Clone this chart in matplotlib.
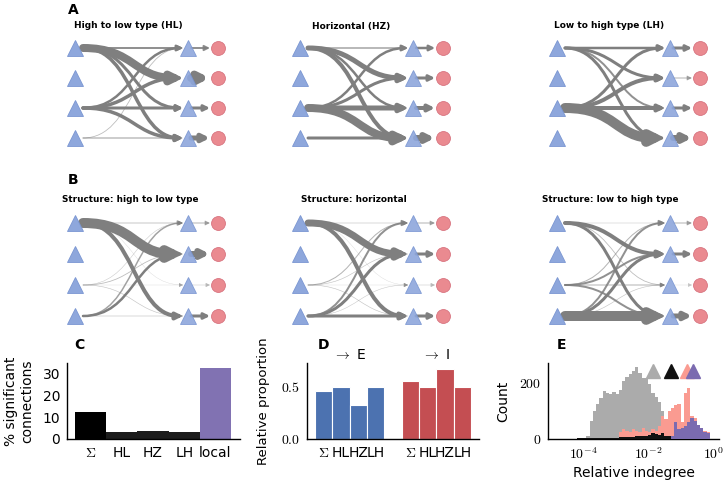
import numpy as np
import matplotlib
matplotlib.use("Agg")
import matplotlib.pyplot as plt
from matplotlib.path import Path
from matplotlib.patches import FancyArrowPatch, ArrowStyle

plt.rcParams['font.family'] = ['DejaVu Sans']
plt.rcParams['mathtext.fontset'] = 'cm'

# ---------------- data ----------------
titles_A = ["High to low type (HL)", "Horizontal (HZ)", "Low to high type (LH)"]
titles_B = ["Structure: high to low type", "Structure: horizontal", "Structure: low to high type"]

# first stage: source triangle i -> target triangle j (band width, px)
A_HL_in = [[2.0, 8.0, 3.0, 3.5],
           [0.0, 0.0, 0.0, 0.0],
           [2.5, 3.5, 3.0, 3.5],
           [0.8, 0.0, 0.0, 1.2]]
A_HZ_in = [[1.5, 5.0, 2.5, 4.0],
           [0.0, 0.0, 0.0, 0.0],
           [2.5, 3.0, 5.0, 8.0],
           [0.0, 0.0, 0.0, 3.0]]
A_LH_in = [[2.5, 3.0, 2.0, 3.0],
           [0.0, 0.0, 0.0, 0.0],
           [3.0, 4.0, 4.0, 10.0],
           [0.0, 0.0, 0.0, 0.0]]
B_HL_in = [[0.8, 10.0, 0.3, 4.0],
           [0.0, 0.0, 0.0, 0.0],
           [0.5, 0.8, 0.3, 0.6],
           [1.5, 2.5, 0.0, 0.6]]
B_HZ_in = [[0.6, 7.0, 0.3, 4.0],
           [0.0, 0.0, 0.0, 0.0],
           [1.0, 0.6, 0.3, 0.6],
           [2.0, 3.0, 0.5, 3.0]]
B_LH_in = [[0.5, 4.0, 0.8, 3.0],
           [0.0, 0.0, 0.0, 0.0],
           [1.0, 2.0, 1.0, 2.0],
           [2.0, 3.0, 0.6, 10.0]]
# second stage: target triangle j -> circle j (arrow width, px)
A_HL_out = [2.0, 8.0, 3.0, 5.0]
A_HZ_out = [2.5, 3.0, 4.0, 6.0]
A_LH_out = [3.0, 1.0, 3.0, 6.0]
B_HL_out = [1.0, 6.0, 0.5, 3.0]
B_HZ_out = [1.0, 3.0, 0.5, 3.0]
B_LH_out = [1.0, 3.0, 0.3, 5.0]

# panel C
c_labels = [r'$\Sigma$', 'HL', 'HZ', 'LH', 'local']
c_values = [12.6, 3.4, 3.8, 3.4, 32.6]

# panel D
d_labels = [r'$\Sigma$', 'HL', 'HZ', 'LH']
d_to_E = [0.46, 0.50, 0.33, 0.50]
d_to_I = [0.56, 0.50, 0.67, 0.50]

# panel E: log10 bin edges -4.4 ... -0.1 (0.1 decade bins)
e_edges = np.logspace(-4.4, -0.1, 44)
e_gray = [0, 0, 0, 0, 3, 10, 65, 100, 125, 145, 170, 165, 160, 168,
          160, 175, 205, 220, 230, 240, 255, 235, 215, 218,
          195, 165, 150, 130, 100, 65, 45, 20, 5,
          0, 0, 0, 0, 0, 0, 0, 0, 0, 0]
e_pink = [0] * 14 + [5, 25, 35, 30, 25, 35, 30, 25, 40, 30,
                     25, 35, 30, 45, 80, 70, 100, 110, 120, 125,
                     60, 165, 180, 80, 75, 40, 30, 30, 25]
e_black = [0, 0, 2, 2, 2, 2, 3, 3, 3, 4, 4, 4, 4, 5,
           5, 6, 6, 7, 8, 8, 10, 9, 11, 12,
           15, 20, 18, 15, 20, 12, 10, 5, 2, 0,
           0, 0, 0, 0, 0, 0, 0, 0, 0]
e_purple = [0] * 31 + [10, 60, 35, 40, 45, 60, 75, 65, 50, 40, 25, 20]
e_means = [10 ** -1.84, 10 ** -1.29, 10 ** -0.81, 10 ** -0.61]
e_mean_height = 240

# ---------------- figure ----------------
fig = plt.figure(figsize=(7.28, 4.87), dpi=100)
ax = fig.add_axes([0, 0, 1, 1])
ax.set_xlim(0, 728)
ax.set_ylim(487, 0)
ax.axis('off')

EDGE = '#7f7f7f'
TRI_FC = '#8ea7dc'
TRI_EC = '#7a96d2'
CIR_FC = '#ea8a90'
CIR_EC = '#d87480'
PX = 0.72  # px -> pt
HEAD = ArrowStyle('-|>', head_length=0.8, head_width=0.4)


def alpha_for(w):
    return min(1.0, 0.3 + 0.28 * w)


def mscale(w):
    return w * PX * 0.55 + 3


def draw_net(x0, ys, W_in, W_out):
    xm = x0 + 113
    xc = x0 + 143
    for i in range(4):
        for j in range(4):
            w = W_in[i][j]
            if w <= 0:
                continue
            p0 = (x0 + 8, ys[i])
            p3 = (xm - 5, ys[j])
            path = Path([p0, (x0 + 60, ys[i]), (xm - 55, ys[j]), p3],
                        [Path.MOVETO, Path.CURVE4, Path.CURVE4, Path.CURVE4])
            arr = FancyArrowPatch(path=path, arrowstyle=HEAD,
                                  mutation_scale=mscale(w), lw=w * PX, color=EDGE,
                                  alpha=alpha_for(w), zorder=2)
            ax.add_patch(arr)
    for j in range(4):
        w = W_out[j]
        if w <= 0:
            continue
        arr = FancyArrowPatch((xm + 3, ys[j]), (xc - 8, ys[j]), arrowstyle=HEAD,
                              mutation_scale=mscale(w), lw=w * PX, color=EDGE,
                              alpha=alpha_for(w), shrinkA=0, shrinkB=0, zorder=2)
        ax.add_patch(arr)
    ax.plot([x0] * 4, ys, ls='none', marker='^', ms=11, mfc=TRI_FC, mec=TRI_EC, mew=0.6, zorder=3)
    ax.plot([xm] * 4, ys, ls='none', marker='^', ms=11, mfc=TRI_FC, mec=TRI_EC, mew=0.6,
            alpha=0.9, zorder=4)
    ax.plot([xc] * 4, ys, ls='none', marker='o', ms=10, mfc=CIR_FC, mec=CIR_EC, mew=0.6, zorder=4)


xs0 = [75, 300, 557]
ys_A = [48, 78, 108, 138]
ys_B = [223, 254, 285, 316]
for x0, W_in, W_out in zip(xs0, [A_HL_in, A_HZ_in, A_LH_in], [A_HL_out, A_HZ_out, A_LH_out]):
    draw_net(x0, ys_A, W_in, W_out)
for x0, W_in, W_out in zip(xs0, [B_HL_in, B_HZ_in, B_LH_in], [B_HL_out, B_HZ_out, B_LH_out]):
    draw_net(x0, ys_B, W_in, W_out)

for x, t in zip([74, 312, 554], titles_A):
    ax.text(x, 26, t, fontsize=6.5, fontweight='bold', ha='left', va='center')
for x, t in zip([62, 301, 542], titles_B):
    ax.text(x, 200, t, fontsize=6.4, fontweight='bold', ha='left', va='center')

for x, y, t in [(68, 10, 'A'), (68, 180, 'B'), (74, 345, 'C'), (318, 345, 'D'), (557, 345, 'E')]:
    ax.text(x, y, t, fontsize=10, fontweight='bold', ha='left', va='center')


def fr(l, t, r, b):
    return [l / 728, 1 - b / 487, (r - l) / 728, (b - t) / 487]


def style(a):
    for s in ['top', 'right']:
        a.spines[s].set_visible(False)
    a.spines['left'].set_linewidth(1.0)
    a.spines['bottom'].set_linewidth(1.0)
    a.tick_params(length=0, pad=5, labelsize=10)


# ---- C ----
axC = fig.add_axes(fr(67, 363, 240, 439))
c_colors = ['black', '#1c1c1c', '#1c1c1c', '#1c1c1c', '#8172b2']
axC.bar(range(len(c_values)), c_values, width=1.0, color=c_colors)
axC.set_xlim(-0.76, 4.79)
axC.set_ylim(0, 35)
axC.set_yticks([0, 10, 20, 30])
axC.set_xticks(range(len(c_labels)))
axC.set_xticklabels(c_labels)
axC.set_ylabel('% significant\nconnections', fontsize=10, labelpad=6)
style(axC)

# ---- D ----
axD = fig.add_axes(fr(307, 363, 479, 439))
pos_E = [0, 1, 2, 3]
pos_I = [5, 6, 7, 8]
axD.bar(pos_E, d_to_E, width=1.0, color='#4c72b0', edgecolor='white', linewidth=0.8)
axD.bar(pos_I, d_to_I, width=1.0, color='#c44e52', edgecolor='white', linewidth=0.8)
axD.set_xlim(-0.97, 8.97)
axD.set_ylim(0, 0.73)
axD.set_yticks([0.0, 0.5])
axD.set_yticklabels([r'$0.0$', r'$0.5$'])
axD.set_xticks(pos_E + pos_I)
axD.set_xticklabels(d_labels + d_labels)
axD.set_ylabel('Relative proportion', fontsize=9.5, labelpad=8)
axD.text(1.5, 0.74, r'$\rightarrow$ E', ha='center', va='bottom', fontsize=10)
axD.text(6.5, 0.74, r'$\rightarrow$ I', ha='center', va='bottom', fontsize=10)
style(axD)

# ---- E ----
axE = fig.add_axes(fr(548, 363, 719, 439))
axE.stairs(e_gray, e_edges, fill=True, color='#ababab', zorder=1)
axE.stairs(e_pink, e_edges, fill=True, color='#fa9b91', zorder=2)
axE.stairs(e_black, e_edges, fill=True, color='#111111', zorder=3)
axE.stairs(e_purple, e_edges, fill=True, color='#7b6bb0', zorder=4)
for xm_, c in zip(e_means, ['#ababab', '#111111', '#fa9b91', '#7b6bb0']):
    axE.plot([xm_], [e_mean_height], marker='^', ms=10, color=c, ls='none', zorder=5)
axE.set_xscale('log')
axE.set_xlim(10 ** -5.08, 10 ** 0.18)
axE.set_ylim(0, 270)
axE.set_xticks([1e-4, 1e-2, 1])
axE.set_xticklabels([r'$10^{-4}$', r'$10^{-2}$', r'$10^{0}$'])
axE.minorticks_off()
axE.set_yticks([0, 200])
axE.set_yticklabels([r'$0$', r'$200$'])
axE.set_ylabel('Count', fontsize=10, labelpad=6)
axE.set_xlabel('Relative indegree', fontsize=10, labelpad=3)
style(axE)

fig.savefig('out.png', dpi=100)
